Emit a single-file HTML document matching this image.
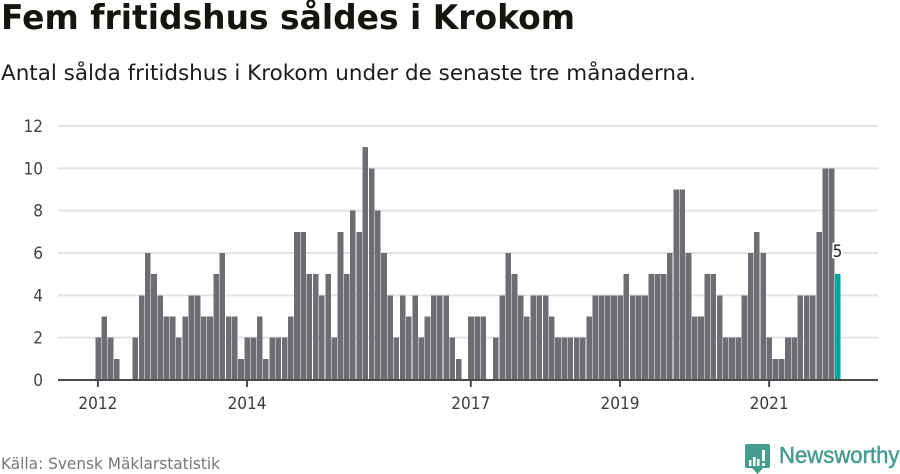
<!DOCTYPE html>
<html lang="sv">
<head>
<meta charset="utf-8">
<title>Fem fritidshus såldes i Krokom</title>
<style>
html,body{margin:0;padding:0;background:#fff;width:900px;height:474px;overflow:hidden}
svg{display:block}
text{font-family:"DejaVu Sans","Liberation Sans",sans-serif}
</style>
</head>
<body>
<svg id="chart" xmlns="http://www.w3.org/2000/svg" width="900" height="474" viewBox="0 0 900 474">
  <text x="1" y="29" font-size="34" font-weight="700" fill="#15150f" textLength="574" lengthAdjust="spacingAndGlyphs">Fem fritidshus såldes i Krokom</text>
  <text x="1" y="80" font-size="21.5" fill="#1c1c18" textLength="695" lengthAdjust="spacingAndGlyphs">Antal sålda fritidshus i Krokom under de senaste tre månaderna.</text>
  <g id="grid"></g>
  <g id="bars"></g>
  <g id="xaxis"></g>
  <g id="labels"></g>
  <text x="1" y="469" font-size="16" fill="#77767b" textLength="219" lengthAdjust="spacingAndGlyphs">Källa: Svensk Mäklarstatistik</text>
  <g>
    <path d="M747 444H768Q770 444 770 446V466Q770 468 768 468H763L757.500 474L752 468H747Q745 468 745 466V446Q745 444 747 444Z" fill="#459d91"/>
    <rect x="749" y="460" width="2.500" height="6" fill="#fff"/>
    <rect x="753" y="457" width="2.500" height="9" fill="#fff"/>
    <rect x="757" y="459" width="2.500" height="7" fill="#fff"/>
    <rect x="762" y="450" width="3" height="11" fill="#fff"/>
    <rect x="762" y="463" width="3" height="3" fill="#fff"/>
    <text x="779" y="463" font-size="23.5" fill="#459d91" stroke="#459d91" stroke-width="0.5" style="font-family:'Liberation Sans',sans-serif" textLength="120.500" lengthAdjust="spacingAndGlyphs">Newsworthy</text>
  </g>
</svg>
<script>
const values = [2,3,2,1,0,0,2,4,6,5,4,3,3,2,3,4,4,3,3,5,6,3,3,1,
  2,2,3,1,2,2,2,3,7,7,5,5,4,5,2,7,5,8,7,11,10,8,6,4,
  2,4,3,4,2,3,4,4,4,2,1,0,3,3,3,0,2,4,6,5,4,3,4,4,
  4,3,2,2,2,2,2,3,4,4,4,4,4,5,4,4,4,5,5,5,6,9,9,6,
  3,3,5,5,4,2,2,2,4,6,7,6,2,1,1,2,2,4,4,4,7,10,10,5];
const yTicks = [0,2,4,6,8,10,12];
const xTickLabels = ["2012","2014","2017","2019","2021"];
const xTickIndexes = [0,24,60,84,108];
const printedValues = [5];

const NS = "http://www.w3.org/2000/svg";
const y = v => 380 - v * (254 / 12);
const x = i => 97.9 + i * (739.6 / 119);
const digitWidth = 9.75;
const make = (tag, parent, props, content) => {
  const el = document.createElementNS(NS, tag);
  for (const k in props) el.setAttribute(k, props[k]);
  if (content !== undefined) el.textContent = content;
  parent.appendChild(el);
  return el;
};

const grid = document.getElementById("grid");
yTicks.forEach(t => {
  if (t > 0) {
    const line = make("line", grid, {x1:58, x2:878, y1:y(t), y2:y(t), stroke:"#e3e3e3", "stroke-width":2});
    
    
  }
  const label = make("text", grid, {x:43, y:y(t)+6, "text-anchor":"end", "font-size":17, fill:"#444", textLength:String(t).length*digitWidth, lengthAdjust:"spacingAndGlyphs"}, t);
  
  
});

const bars = document.getElementById("bars");
values.forEach((v, i) => {
  if (v <= 0) return;
  const last = i === values.length - 1;
  const r = make("rect", bars, {x:x(i)-2.6, y:y(v), width:5.6, height:y(0)-y(v), fill:last ? "#00a699" : "#6e6d73", "shape-rendering":"crispEdges"});
  
  
});

const xaxis = document.getElementById("xaxis");
const base = make("line", xaxis, {x1:58, x2:878, y1:380, y2:380, stroke:"#4a4a4d", "stroke-width":2});


xTickLabels.forEach((lab, n) => {
  const px = x(xTickIndexes[n]);
  const tick = make("line", xaxis, {x1:px, x2:px, y1:380, y2:387, stroke:"#4a4a4d", "stroke-width":2});
  
  
  const t = make("text", xaxis, {x:px, y:409, "text-anchor":"middle", "font-size":17, fill:"#3c3c3c", textLength:lab.length*digitWidth, lengthAdjust:"spacingAndGlyphs"}, lab);
  
  
});

const labels = document.getElementById("labels");
printedValues.forEach(v => {
  const i = values.length - 1;
  const t = make("text", labels, {x:x(i), y:y(v)-17, "text-anchor":"middle", "font-size":17, fill:"#222", stroke:"#fff", "stroke-width":4, "paint-order":"stroke", textLength:digitWidth, lengthAdjust:"spacingAndGlyphs"}, v);
  
  
});
</script>
</body>
</html>
